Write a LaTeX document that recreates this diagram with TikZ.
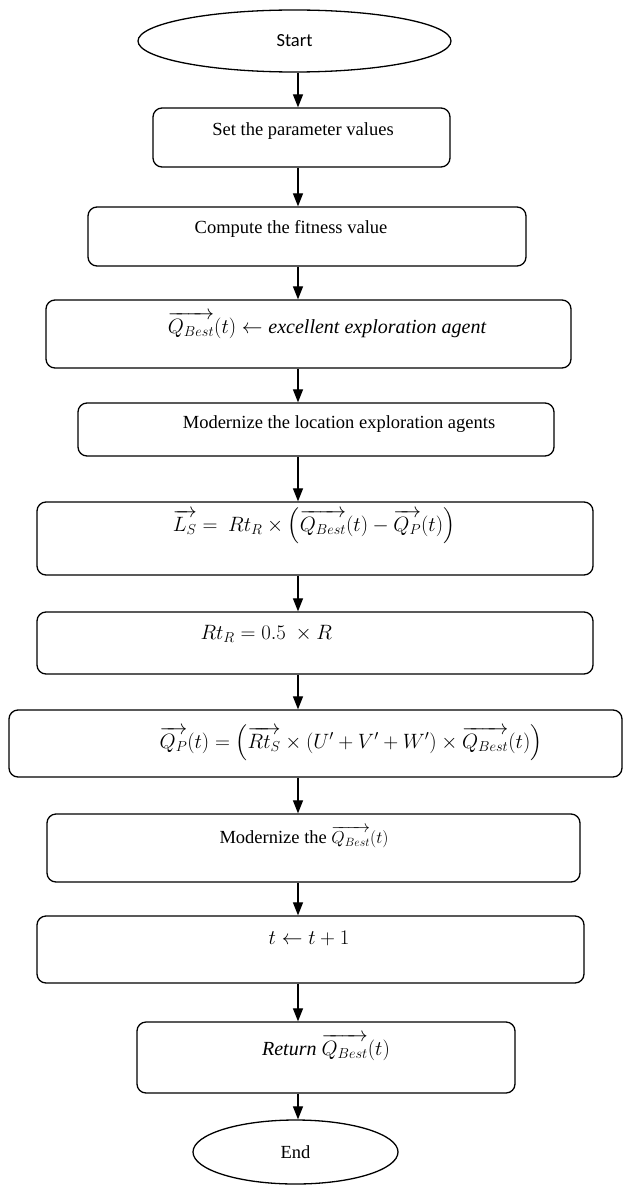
\documentclass[tikz,border=0pt]{standalone}
\usepackage{amsmath}
\usepackage{amssymb}
\usepackage{fontspec}
\setmainfont{Liberation Serif}
\newfontfamily\startfont{Carlito}
\usetikzlibrary{shapes.geometric,arrows.meta}

\begin{document}
\begin{tikzpicture}[x=1pt,y=-1pt,
        every node/.style={font=\fontsize{18.5}{22}\selectfont},
        formula/.style={font=\fontsize{20}{24}\selectfont},
        stepbox/.style={draw,line width=1.3pt,rounded corners=9pt,inner sep=0pt},
        terminal/.style={draw,ellipse,line width=1.3pt,inner sep=0pt},
        flow/.style={line width=1.2pt,-{Triangle[length=13pt,width=10pt]}}]
            \useasboundingbox (0,0) rectangle (623,1185);
            \coordinate (spine) at (298,0);

            \node[terminal,minimum width=313,minimum height=62] (start) at (294.5,41) {\startfont Start};
            \node[terminal,minimum width=205,minimum height=64] (end) at (295.5,1152) {End};

            \foreach \n/\l/\t/\r/\b in {b1/153/108/450/167,b2/88/207/526/266,b3/46/300/571/368,
                b4/78/403/554/456,b5/37/502/593/575,b6/37/612/593/674,b7/9/710/622/777,
                b8/47/814/580/882,b9/37/916/584/983,b10/137/1022/515/1093} {
                \node[stepbox,minimum width={\r-\l},minimum height={\b-\t}] (\n) at ({(\l+\r)/2},{(\t+\b)/2}) {};
            }

            \node at (303,131) {Set the parameter values};
            \node at (291,229) {Compute the fitness value};
            \node[formula] at (327,325) {$\overrightarrow{Q_{Best}}(t) \leftarrow \mathit{excellent\ exploration\ agent}$};
            \node at (339,424) {Modernize the location exploration agents};
            \node[formula] at (314,526) {$\overrightarrow{L_S} =\ Rt_R \times \left(\overrightarrow{Q_{Best}}(t) - \overrightarrow{Q_P}(t)\right)$};
            \node[formula,anchor=west] at (197,634) {$Rt_R = 0.5\ \times R$};
            \node[formula] at (351,743) {$\overrightarrow{Q_P}(t) = \left(\overrightarrow{Rt_S} \times (U' + V' + W') \times \overrightarrow{Q_{Best}}(t)\right)$};
            \node at (304,837) {Modernize the $\overrightarrow{Q_{Best}}(t)$};
            \node[formula] at (309,938) {$t \leftarrow t + 1$};
            \node[formula] at (326,1047) {$\mathit{Return}\ \overrightarrow{Q_{Best}}(t)$};

            \foreach \a/\b in {start/b1,b1/b2,b2/b3,b3/b4,b4/b5,b5/b6,b6/b7,b7/b8,b8/b9,b9/b10,b10/end} {
                \draw[flow] (\a.south -| spine) -- (\b.north -| spine);
            }
        \end{tikzpicture}
\end{document}
